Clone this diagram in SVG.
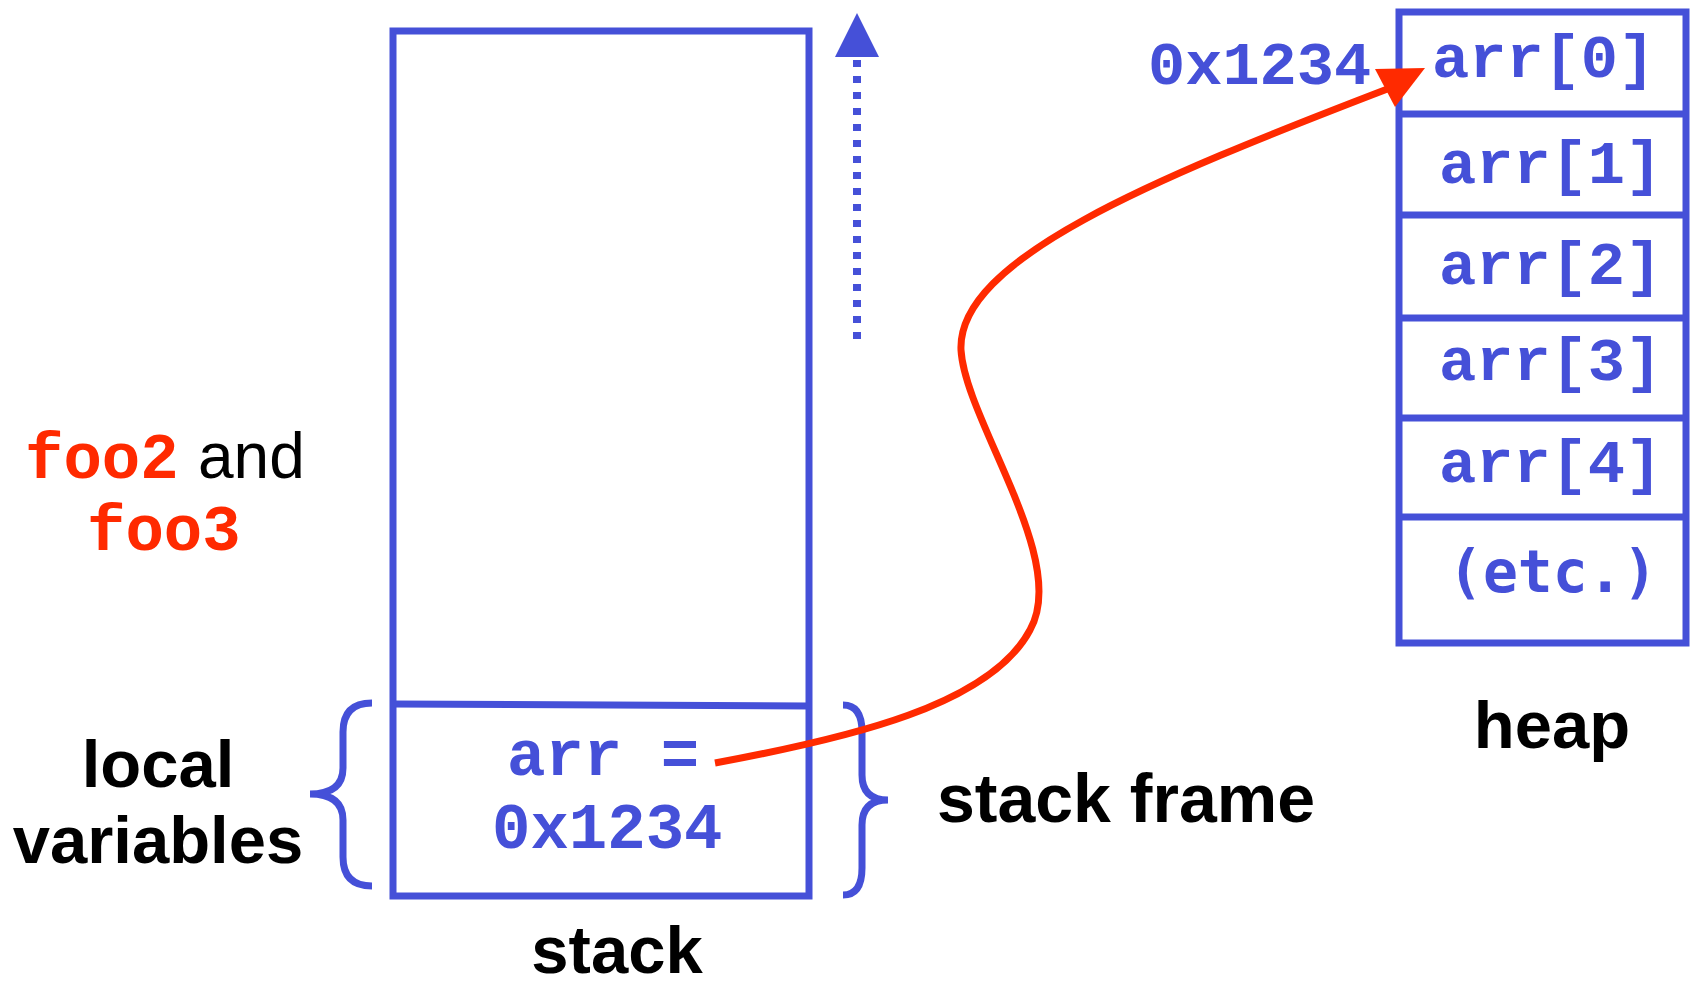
<svg xmlns="http://www.w3.org/2000/svg" width="1690" height="981" viewBox="0 0 1690 981">
<style>
.box{fill:none;stroke:#4550D8;stroke-width:7}
.brace{fill:none;stroke:#4550D8;stroke-width:7;stroke-linecap:butt}
.mono{font-family:"Liberation Mono","Courier New",monospace;font-weight:bold;fill:#4550D8}
.red{font-family:"Liberation Mono","Courier New",monospace;font-weight:bold;fill:#FF2A00}
.etc{font-family:"DejaVu Sans Mono","Liberation Mono",monospace;font-weight:bold;fill:#4550D8}
.lbl{font-family:"Liberation Sans",Arial,sans-serif;font-weight:bold;fill:#000;text-anchor:middle}
.plain{font-family:"Liberation Sans",Arial,sans-serif;fill:#000}
</style>
<rect width="1690" height="981" fill="#fff"/>
<g id="stack">
  <rect class="box" x="393" y="31" width="416" height="865"/>
  <line class="box" x1="393" y1="704" x2="809" y2="706"/>
  <text class="mono" x="507" y="775" font-size="64">arr =</text>
  <text class="mono" x="492" y="848" font-size="64">0x1234</text>
  <text class="lbl" x="617" y="973" font-size="67">stack</text>
</g>
<g id="growth-arrow">
  <line x1="857" y1="60" x2="857" y2="347" stroke="#4550D8" stroke-width="8" stroke-dasharray="7 9"/>
  <polygon points="857,13 835,57 879,57" fill="#4550D8"/>
</g>
<g id="local-variables">
  <path class="brace" d="M372,703 Q343,703 343,732 L343,768 Q343,794 310,794 Q343,794 343,820 L343,857 Q343,886 372,886"/>
  <text class="lbl" x="158" y="787" font-size="67">local</text>
  <text class="lbl" x="158" y="863" font-size="67">variables</text>
</g>
<g id="stack-frame">
  <path class="brace" d="M843,705 Q862,705 862,732 L862,775 Q862,800 888,800 Q862,800 862,825 L862,868 Q862,895 843,895"/>
  <text class="lbl" x="1126" y="822" font-size="68">stack frame</text>
</g>
<g id="foo-label">
  <text class="red" x="25" y="478" font-size="64">foo2</text>
  <text class="plain" x="198" y="478" font-size="64">and</text>
  <text class="red" x="87" y="550" font-size="64">foo3</text>
</g>
<g id="heap">
  <rect class="box" x="1399" y="12" width="287" height="631"/>
  <line class="box" x1="1399" y1="114" x2="1686" y2="114"/>
  <line class="box" x1="1399" y1="215" x2="1686" y2="215"/>
  <line class="box" x1="1399" y1="318" x2="1686" y2="318"/>
  <line class="box" x1="1399" y1="418" x2="1686" y2="418"/>
  <line class="box" x1="1399" y1="517" x2="1686" y2="517"/>
  <text class="mono" x="1432" y="77" font-size="62">arr[0]</text>
  <text class="mono" x="1439" y="183" font-size="62">arr[1]</text>
  <text class="mono" x="1439" y="284" font-size="62">arr[2]</text>
  <text class="mono" x="1439" y="380" font-size="62">arr[3]</text>
  <text class="mono" x="1439" y="482" font-size="62">arr[4]</text>
  <text class="etc" x="1448" y="592" font-size="58">(etc.)</text>
  <text class="mono" x="1148" y="84" font-size="62">0x1234</text>
  <text class="lbl" x="1552" y="748" font-size="67">heap</text>
</g>
<g id="connectors">
  <path d="M715,763 C850,738 990,705 1030,630 C1070,560 965,420 961,350 C957,260 1150,180 1390,88" fill="none" stroke="#FF2A00" stroke-width="7"/>
  <polygon points="1395,107 1375,69 1425,68" fill="#FF2A00"/>
</g>
</svg>
